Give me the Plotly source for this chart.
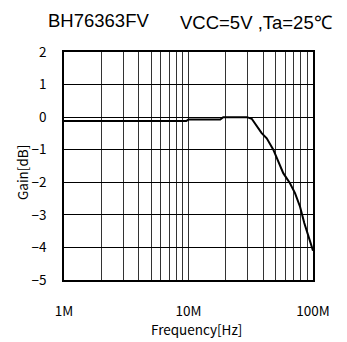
import plotly.graph_objects as go

freq_hz = [1e6, 9.6e6, 10.0e6, 18.0e6, 19.0e6, 29.5e6, 32.2e6, 34.2e6, 38.7e6, 42.5e6,
           48.0e6, 57.7e6, 65.3e6, 71.7e6, 78.7e6, 85.1e6, 94.6e6, 100e6]
gain_db = [-0.12, -0.12, -0.07, -0.07, 0.0, 0.0, -0.05, -0.19, -0.49, -0.65,
           -1.0, -1.72, -2.03, -2.33, -2.75, -3.25, -3.77, -4.1]

x_tick_vals = [m * 10 ** e for e in (6, 7) for m in range(1, 10)] + [1e8]
x_tick_text = ["1M"] + [""] * 8 + ["10M"] + [""] * 8 + ["100M"]
y_tick_vals = [2, 1, 0, -1, -2, -3, -4, -5]
y_tick_text = ["2", "1", "0", "\u22121", "\u22122", "\u22123", "\u22124", "\u22125"]

title_left = "BH76363FV"
title_right = "VCC=5V ,Ta=25\u2103"
x_title = "Frequency[Hz]"
y_title = "Gain[dB]"

tick_font = dict(family="Noto Sans CJK JP", size=13.5, color="black")
head_font = dict(family="Liberation Sans", size=18.5, color="black")

# page pixel layout (browser body has an 8px margin)
PL, PR, PT, PB = 64, 313, 52, 280


def px(x):
    return (x - PL) / (PR - PL)


def py(y):
    return (PB - y) / (PB - PT)


def label(text, x, y, font, angle=0):
    return dict(text=text, x=px(x), y=py(y), xref="paper", yref="paper",
                xanchor="center", yanchor="middle", showarrow=False,
                font=font, textangle=angle)


fig = go.Figure()
fig.add_trace(go.Scatter(x=freq_hz, y=gain_db, mode="lines",
                         line=dict(color="black", width=2), showlegend=False))

fig.update_layout(
    width=339, height=334,
    margin=dict(l=PL - 8, r=347 - PR, t=PT - 8, b=342 - PB),
    paper_bgcolor="white", plot_bgcolor="white",
    xaxis=dict(type="log", range=[6, 8], tickvals=x_tick_vals, ticktext=x_tick_text,
               showgrid=True, gridcolor="#333", gridwidth=1, showline=True,
               linecolor="black", linewidth=1.5, mirror=True, ticks="",
               ticklabelstandoff=18, tickfont=tick_font, zeroline=False),
    yaxis=dict(range=[-5, 2], tickvals=y_tick_vals, ticktext=y_tick_text,
               showgrid=True, gridcolor="black", gridwidth=1, showline=True,
               linecolor="black", linewidth=1.5, mirror=True, ticks="",
               ticklabelstandoff=13, tickfont=tick_font, zeroline=False),
    annotations=[
        label(title_left, 98, 21, head_font),
        label(title_right, 256, 22, head_font),
        label(x_title, 196, 329, tick_font),
        label(y_title, 22, 173, tick_font, -90),
    ],
)

fig.write_html("out.html")
